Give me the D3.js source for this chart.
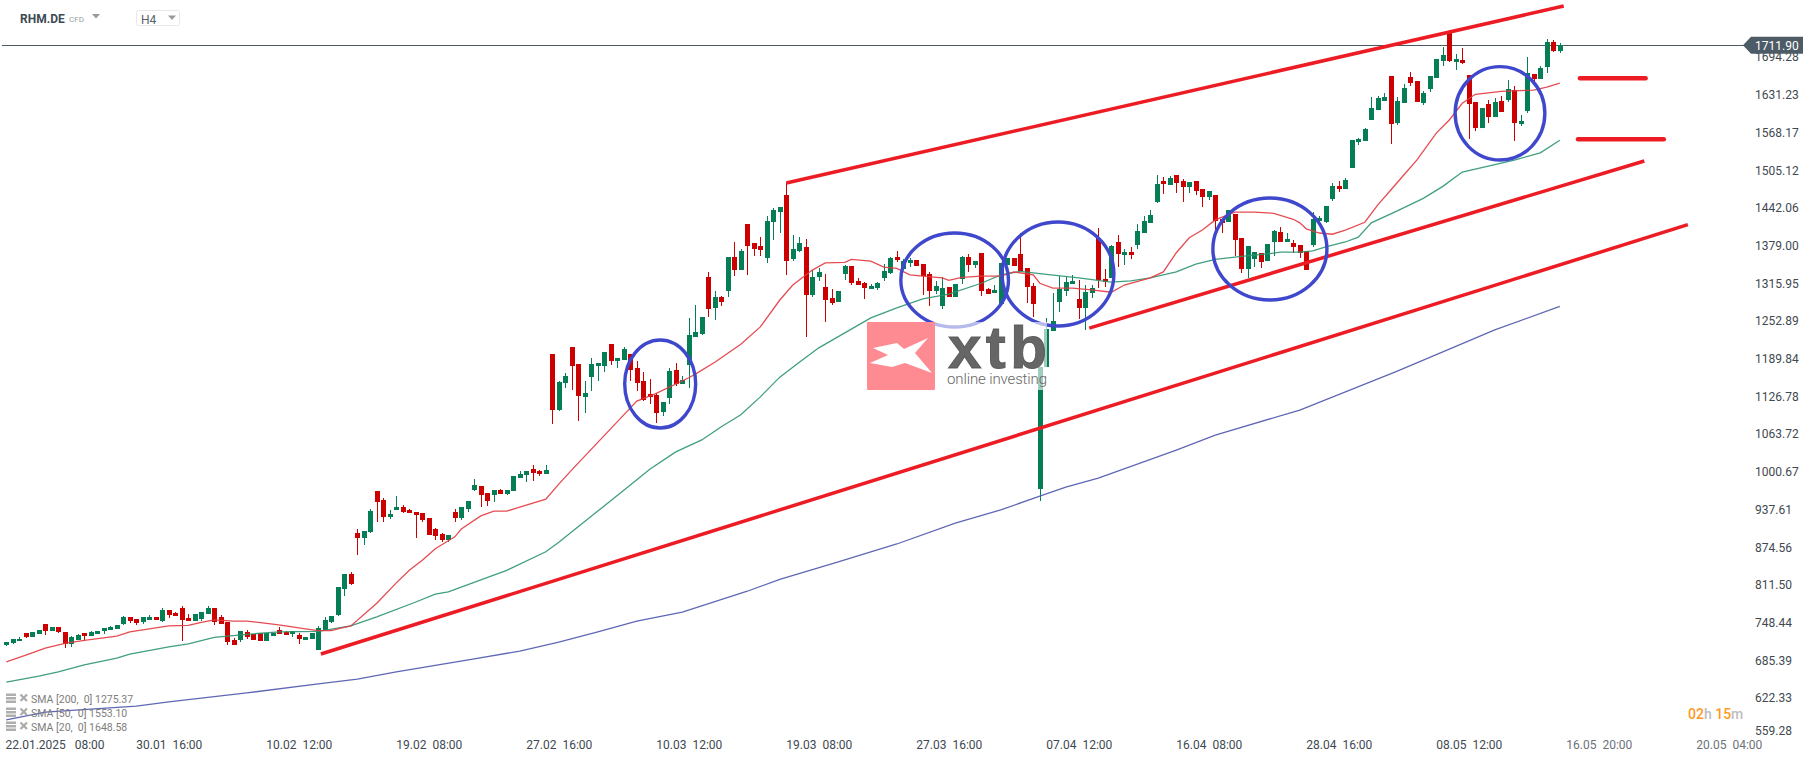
<!DOCTYPE html>
<html><head><meta charset="utf-8">
<style>html,body{margin:0;padding:0;background:#fff}svg{display:block;font-family:Roboto,sans-serif}</style>
<script src="https://cdnjs.cloudflare.com/ajax/libs/d3/7.8.5/d3.min.js"></script>
</head><body><svg id="c" width="1815" height="759"></svg>
<script>
const open=[709,713,715,729,722,727,744,732,739,731,
711,717,729,724,727,732,734,736,744,756,
752,748,751,756,749,768,763,771,754,749,
753,761,771,756,748,717,717,731,727,729,
716,724,734,731,727,726,717,719,701,734,
748,759,803,828,896,888,898,967,952,923,
935,940,935,932,930,921,903,895,885,932,
921,937,968,975,963,960,968,962,967,988,
993,1003,1000,995,1196,1102,1147,1207,1179,1124,
1157,1176,1176,1212,1184,1186,1196,1172,1151,1129,
1127,1099,1122,1169,1146,1177,1224,1229,1324,1273,
1291,1301,1358,1336,1413,1381,1376,1356,1416,1433,
1462,1355,1368,1375,1294,1325,1308,1289,1283,1330,
1343,1318,1314,1304,1306,1323,1331,1358,1338,1348,
1353,1346,1330,1301,1276,1308,1291,1321,1358,1345,
1365,1304,1298,1279,1345,1356,1363,1340,1309,970,
1174,1234,1283,1301,1313,1288,1273,1298,1390,1321,
1323,1383,1361,1366,1378,1398,1415,1450,1485,1478,
1495,1485,1475,1485,1472,1458,1462,1421,1416,1430,
1390,1338,1354,1364,1351,1383,1400,1383,1381,1378,
1368,1378,1418,1416,1455,1477,1472,1507,1550,1552,
1587,1604,1619,1661,1582,1615,1659,1652,1615,1639,
1657,1686,1732,1684,1687,1662,1617,1574,1614,1592,
1619,1620,1637,1580,1602,1664,1656,1676,1717,1702];
const high=[714,719,722,729,731,734,744,739,739,731,
724,727,729,732,732,737,741,742,758,756,
752,756,759,756,771,768,764,774,761,761,
764,774,771,759,748,721,732,734,727,729,
729,729,739,732,732,729,722,729,741,756,
758,806,828,831,903,900,937,967,955,935,
958,943,937,932,930,921,905,896,893,937,
940,950,987,975,963,968,970,968,992,1000,
1000,1010,1002,1010,1196,1151,1164,1207,1179,1151,
1189,1181,1199,1212,1189,1207,1196,1184,1166,1154,
1130,1115,1172,1181,1159,1256,1278,1258,1333,1301,
1293,1358,1383,1371,1413,1381,1391,1427,1440,1442,
1482,1395,1391,1388,1336,1340,1330,1304,1301,1345,
1343,1323,1316,1313,1316,1346,1358,1368,1355,1356,
1353,1346,1333,1318,1324,1308,1313,1360,1363,1351,
1365,1306,1311,1348,1356,1356,1398,1340,1314,1174,
1256,1298,1326,1324,1328,1319,1311,1311,1406,1338,
1378,1395,1371,1375,1413,1426,1436,1495,1492,1493,
1495,1488,1483,1485,1472,1468,1462,1421,1436,1430,
1390,1376,1366,1364,1380,1403,1408,1398,1386,1378,
1368,1433,1426,1443,1482,1485,1490,1554,1557,1574,
1625,1627,1632,1661,1625,1647,1667,1652,1635,1661,
1689,1709,1737,1697,1707,1662,1617,1607,1620,1624,
1627,1654,1644,1595,1692,1664,1677,1722,1721,1716];
const low=[707,711,715,721,722,727,726,732,729,704,
706,717,716,724,727,727,734,736,742,746,
742,744,751,751,748,754,758,716,749,749,
749,761,742,744,709,709,714,719,717,716,
716,724,727,726,722,711,717,719,701,734,
746,758,791,809,860,876,896,915,915,920,
935,930,930,888,915,893,885,881,881,915,
918,932,967,940,942,948,962,960,967,988,
982,983,992,995,1079,1100,1139,1136,1084,1097,
1134,1151,1166,1177,1172,1186,1151,1134,1117,1112,
1080,1092,1112,1142,1146,1139,1224,1228,1258,1253,
1276,1291,1326,1336,1328,1360,1360,1348,1386,1398,
1328,1351,1366,1224,1291,1318,1249,1278,1283,1320,
1311,1311,1288,1304,1303,1318,1330,1350,1338,1341,
1343,1294,1276,1296,1271,1291,1291,1313,1333,1340,
1293,1296,1298,1279,1345,1343,1334,1281,1258,950,
1174,1234,1266,1293,1313,1254,1236,1289,1306,1308,
1323,1341,1345,1354,1371,1398,1415,1448,1463,1478,
1465,1450,1465,1462,1441,1453,1403,1398,1416,1360,
1331,1323,1341,1340,1351,1360,1383,1383,1365,1356,
1336,1375,1416,1415,1452,1467,1471,1507,1545,1552,
1587,1604,1619,1547,1579,1615,1644,1617,1612,1634,
1657,1677,1684,1671,1681,1555,1569,1574,1582,1592,
1600,1617,1552,1577,1599,1647,1656,1666,1701,1699];
const close=[714,719,719,722,731,734,732,739,731,711,
722,726,724,731,732,737,739,742,756,749,
746,756,756,751,768,759,758,751,749,761,
764,771,748,744,714,709,732,722,717,716,
729,729,727,726,732,719,722,729,737,751,
758,806,828,811,888,900,933,948,923,928,
940,932,930,927,918,893,891,885,893,921,
940,950,977,960,950,968,962,968,992,995,
1000,997,995,1002,1102,1149,1159,1176,1126,1131,
1179,1181,1199,1184,1189,1204,1169,1147,1119,1124,
1097,1115,1167,1146,1152,1228,1233,1258,1271,1291,
1283,1358,1336,1368,1376,1371,1370,1418,1437,1442,
1351,1371,1381,1294,1325,1333,1286,1281,1301,1343,
1314,1311,1306,1309,1314,1335,1356,1353,1351,1353,
1343,1326,1301,1309,1306,1291,1313,1358,1345,1351,
1301,1296,1303,1348,1356,1343,1334,1308,1279,1174,
1237,1251,1304,1316,1318,1273,1299,1306,1319,1316,
1376,1363,1366,1361,1401,1418,1428,1480,1480,1490,
1482,1475,1483,1468,1458,1468,1418,1415,1436,1386,
1338,1376,1366,1350,1380,1401,1383,1388,1375,1365,
1336,1421,1423,1443,1477,1472,1487,1554,1555,1572,
1607,1624,1625,1580,1619,1640,1649,1617,1632,1661,
1689,1696,1686,1689,1682,1614,1574,1607,1592,1617,
1600,1639,1582,1585,1666,1656,1674,1717,1702,1712];

const sma20Idx=[0,3,6,9,12,17,19,22,25,28,30,32,35,37,41,43,46,48,50,51,53,57,60,62,64,66,69,70,73,75,77,83,85,87,91,95,97,100,105,106,109,111,113,116,119,121,124,126,129,130,133,135,137,139,141,144,145,147,150,153,155,158,159,161,164,167,170,172,176,178,180,182,184,186,189,192,195,198,199,200,202,204,206,209,211,213,215,217,220,222,224,226,230,235,237,239];
const sma20=[681,692,704,712,717,724,731,736,741,742,747,751,749,749,744,741,736,733,733,736,741,779,813,834,851,870,890,903,925,933,933,953,978,1002,1048,1094,1117,1130,1156,1162,1182,1197,1212,1241,1286,1311,1336,1348,1349,1354,1351,1341,1339,1328,1326,1323,1319,1324,1326,1326,1333,1328,1314,1306,1306,1303,1299,1311,1323,1333,1365,1390,1403,1420,1433,1433,1431,1421,1415,1405,1398,1396,1403,1416,1445,1470,1495,1520,1565,1587,1615,1630,1635,1637,1642,1648.58];
const sma50Idx=[0,5,8,12,17,19,25,28,32,37,42,48,53,57,63,66,68,75,77,83,85,91,95,99,103,107,110,113,116,119,122,125,129,133,137,141,145,150,153,156,160,165,170,173,176,180,183,186,190,194,196,199,201,203,206,208,210,214,218,221,224,228,232,236,239];
const sma50=[647,657,664,676,687,694,706,711,722,727,731,732,741,756,781,794,798,826,834,865,881,933,968,1003,1032,1052,1074,1094,1124,1157,1182,1206,1231,1256,1273,1288,1296,1314,1328,1334,1329,1323,1316,1318,1323,1333,1346,1354,1359,1363,1366,1366,1368,1375,1383,1391,1415,1435,1456,1476,1500,1510,1520,1532,1553.10];
const sma200Idx=[0,6,20,25,37,48,54,60,72,79,85,91,97,104,114,119,128,137,146,153,159,163,168,180,186,199,214,229,239];
const sma200=[584,597,607,614,629,644,652,664,686,699,714,731,749,764,799,819,848,878,913,935,958,973,988,1035,1060,1102,1167,1236,1275.37];

const yTicks=[1694.28,1631.23,1568.17,1505.12,1442.06,1379.00,1315.95,1252.89,1189.84,1126.78,1063.72,1000.67,937.61,874.56,811.50,748.44,685.39,622.33,559.28];
const xLabels=["22.01.2025\u00a0\u00a0\u00a008:00","30.01\u00a0\u00a016:00","10.02\u00a0\u00a012:00","19.02\u00a0\u00a008:00","27.02\u00a0\u00a016:00","10.03\u00a0\u00a012:00","19.03\u00a0\u00a008:00","27.03\u00a0\u00a016:00","07.04\u00a0\u00a012:00","16.04\u00a0\u00a008:00","28.04\u00a0\u00a016:00","08.05\u00a0\u00a012:00","16.05\u00a0\u00a020:00","20.05\u00a0\u00a004:00"];
const xTickIdx=[5,25,45,65,85,105,125,145,165,185,205,225,245,265];
const lastPrice=1711.90;
const legendRows=["SMA [200,  0] 1275.37","SMA [50,  0] 1553.10","SMA [20,  0] 1648.58"];

// annotations in chart units: candle index / price
const trendStartI=[48.4,120,166.6,242.1,241.8];
const trendStartP=[694,1481.6,1239,1656.7,1554.7];
const trendEndI=[258.7,239.6,252,252.2,255];
const trendEndP=[1412,1777.6,1518.4,1656.7,1554.7];
const ringI=[100.6,145.9,161.8,194.4,229.8];
const ringP=[1145.5,1319.4,1329.5,1371.3,1598.2];
const ringRI=[5.46,8.28,8.6,8.77,6.9];
const ringRP=[73.6,78.6,87,85.3,78.1];

const GREEN="#057d55",RED="#cc0000";
const svg=d3.select("#c");
const x=d3.scaleLinear().domain([0,239]).range([6.3,1559.8]);
const y=d3.scaleLinear().domain([1711.9,559.28]).range([45.3,734.6]);
const rows=d3.range(open.length).map(i=>({i,o:open[i],h:high[i],l:low[i],c:close[i]}));

// last price line
svg.append("line").attr("x1",2).attr("x2",1750).attr("y1",Math.round(y(lastPrice))).attr("y2",Math.round(y(lastPrice))).attr("stroke","#4c5862").attr("stroke-width",1).attr("shape-rendering","crispEdges");

// candles
const cg=svg.append("g").attr("shape-rendering","crispEdges");
const cs=cg.selectAll("g").data(rows).join("g").attr("fill",d=>d.c>=d.o?GREEN:RED);
cs.append("rect").attr("x",d=>Math.round(x(d.i))).attr("width",1)
  .attr("y",d=>Math.round(y(d.h))).attr("height",d=>Math.max(1,Math.round(y(d.l))-Math.round(y(d.h))));
cs.append("rect").attr("x",d=>Math.round(x(d.i))-2).attr("width",5)
  .attr("y",d=>Math.round(y(Math.max(d.o,d.c)))).attr("height",d=>Math.max(2,Math.round(y(Math.min(d.o,d.c)))-Math.round(y(Math.max(d.o,d.c)))));

// moving averages
const line=d3.line().x(d=>x(d[0])).y(d=>y(d[1]));
[[sma200Idx,sma200,"#4e56ad"],[sma50Idx,sma50,"#2b9570"],[sma20Idx,sma20,"#e2393f"]].forEach(([ix,v,col])=>{
  svg.append("path").attr("d",line(ix.map((k,j)=>[k,v[j]]))).attr("fill","none").attr("stroke",col).attr("stroke-width",1.3).attr("stroke-opacity",.9);
});

// hand-drawn annotations
const ann=svg.append("g");
ann.selectAll("line").data(trendStartI.map((_,k)=>k)).join("line")
  .attr("x1",k=>x(trendStartI[k])).attr("y1",k=>y(trendStartP[k]))
  .attr("x2",k=>x(trendEndI[k])).attr("y2",k=>y(trendEndP[k]))
  .attr("stroke","#ed1c24").attr("stroke-width",k=>k>=3?4.5:3.5).attr("stroke-linecap",k=>k>=3?"round":"butt");
ann.selectAll("ellipse").data(ringI.map((_,k)=>k)).join("ellipse")
  .attr("cx",k=>x(ringI[k])).attr("cy",k=>y(ringP[k]))
  .attr("rx",k=>x(ringRI[k])-x(0)).attr("ry",k=>y(0)-y(ringRP[k]))
  .attr("fill","none").attr("stroke","#3f48cc").attr("stroke-width",3.4);

// watermark
const wm=svg.append("g");
wm.append("rect").attr("x",867).attr("y",322).attr("width",180).attr("height",68).attr("fill","#fff").attr("opacity",.62);
wm.append("rect").attr("x",867).attr("y",322).attr("width",68).attr("height",68).attr("rx",1).attr("fill","#fe8a92");
wm.append("polygon").attr("points","873,348 897,343 904,349 928,338 915,353 932,373 905,363 892,367 870,363 888,355").attr("fill","#fff");
wm.append("text").attr("x",948).attr("y",368).attr("font-family","Liberation Sans,sans-serif").attr("font-weight",700).attr("font-size",60).attr("fill","#555").attr("fill-opacity",.9).attr("stroke","#555").attr("stroke-opacity",.9).attr("stroke-width",1).attr("textLength",99).attr("lengthAdjust","spacing").text("xtb");
wm.append("text").attr("x",947).attr("y",384).attr("font-family","Roboto").attr("font-weight",300).attr("font-size",15).attr("fill","#666").attr("textLength",100).attr("lengthAdjust","spacing").text("online investing");

// axes
const ay=svg.append("g").attr("transform","translate(1755,0)").call(d3.axisRight(y).tickValues(yTicks).tickSize(0).tickPadding(0).tickFormat(d3.format(".2f")));
ay.select(".domain").remove();
ay.selectAll("text").attr("x",0).attr("dy",".42em").attr("font-family","Roboto").attr("font-size",12).attr("fill","#414950");
ay.selectAll(".tick").filter(d=>d===559.28).select("text").attr("dy","-0.0em");

const ax=svg.append("g").attr("transform","translate(0,740)").call(d3.axisBottom(x).tickValues(xTickIdx).tickSize(0).tickPadding(0).tickFormat((d,i)=>xLabels[i]));
ax.select(".domain").remove();
ax.selectAll("text").attr("y",0).attr("dy",".71em").attr("font-family","Roboto").attr("font-size",12).attr("fill","#414950");
ax.selectAll(".tick").filter(d=>d===5).select("text").attr("text-anchor","start").attr("x",5-x(5));
ax.selectAll(".tick").filter(d=>d>=245).select("text").attr("fill","#6b7278");

// last price tag
const ly=y(lastPrice);
svg.append("path").attr("d",`M1743,${ly} L1751,${ly-8.5} H1803 V${ly+8.5} H1751 Z`).attr("fill","#4d5b66");
svg.append("text").attr("x",1755).attr("y",ly).attr("dy",".38em").attr("font-size",12).attr("fill","#fff").text(d3.format(".2f")(lastPrice));

// header
svg.append("text").attr("x",20).attr("y",23).attr("font-size",12).attr("font-weight",700).attr("fill","#3e4a52").text("RHM.DE");
svg.append("text").attr("x",69).attr("y",22).attr("font-size",8).attr("fill","#9a9fa3").text("CFD");
svg.append("path").attr("d","M92,14 H100 L96,18.5 Z").attr("fill","#9a9a9a");
svg.append("rect").attr("x",136.5).attr("y",10.5).attr("width",43).attr("height",15).attr("rx",2).attr("fill","#fff").attr("stroke","#e8e8e8");
svg.append("text").attr("x",141).attr("y",24).attr("font-size",12).attr("fill","#55606a").text("H4");
svg.append("path").attr("d","M168,15.5 H176 L172,20 Z").attr("fill","#9a9a9a");

// legend
const lg=svg.append("g");
legendRows.forEach((t,k)=>{
  const cy=699+k*14;
  [-4.5,-1,2.5].forEach(o=>lg.append("rect").attr("x",6).attr("y",cy+o-1).attr("width",10).attr("height",2.5).attr("fill","#9a9a9a").attr("opacity",.8));
  lg.append("path").attr("d",`M20.5,${cy-4.5} L27,${cy+2} M27,${cy-4.5} L20.5,${cy+2}`).attr("stroke","#aaa").attr("stroke-width",2.2);
  lg.append("text").attr("x",31).attr("y",cy+4).attr("font-size",10.5).attr("fill","#7d7d7d").style("white-space","pre").text(t);
});

// countdown
const cd=svg.append("text").attr("x",1688).attr("y",719).attr("font-size",14).attr("font-weight",500);
[["02","#ff9a1f"],["h ","#bdbdbd"],["15","#ff9a1f"],["m","#bdbdbd"]].forEach(([t,c])=>cd.append("tspan").attr("fill",c).style("white-space","pre").text(t));
</script></body></html>
